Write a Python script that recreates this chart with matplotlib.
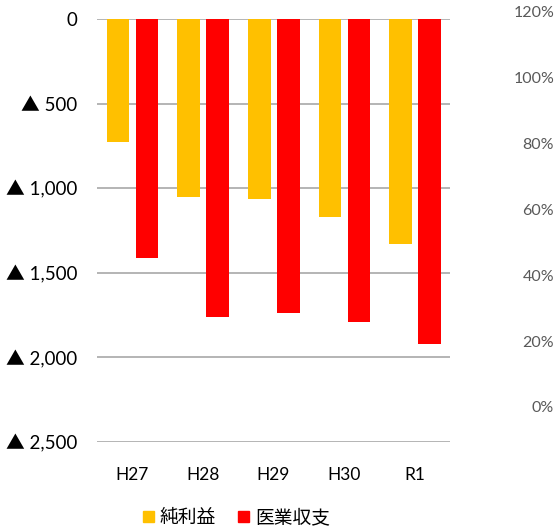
import numpy as np
import matplotlib
matplotlib.use("Agg")
import matplotlib.pyplot as plt
from matplotlib.patches import Patch

plt.rcParams['font.family'] = ['Lato', 'Noto Sans CJK JP', 'DejaVu Sans']

years = ["H27", "H28", "H29", "H30", "R1"]
net_profit = [-725, -1050, -1062, -1168, -1332]      # 純利益
medical_balance = [-1411, -1759, -1740, -1789, -1923]  # 医業収支
left_ticks = [0, -500, -1000, -1500, -2000, -2500]
right_ticks = [0, 20, 40, 60, 80, 100, 120]

fig = plt.figure(figsize=(5.56, 5.32), dpi=100)
ax = fig.add_axes([0.174, 0.1692, 0.6355, 0.795])

x = np.arange(len(years))
w = 0.32
ax.bar(x - 0.2, net_profit, w, color="#FFC000", zorder=3)
ax.bar(x + 0.21, medical_balance, w, color="#FF0000", zorder=3)

ax.set_xlim(-0.5, len(years) - 0.5)
ax.set_ylim(-2500, 0)
ax.set_yticks(left_ticks)
ax.set_yticklabels(["0" if v == 0 else f"▲ {abs(v):,}" for v in left_ticks])
ax.set_xticks(x)
ax.set_xticklabels(years)
ax.yaxis.grid(True, color="#A0A0A0", linewidth=1.1, zorder=0)
ax.tick_params(axis="y", length=0, pad=14, labelsize=13.5)
ax.tick_params(axis="x", length=0, pad=18, labelsize=12.5)
for s in ax.spines.values():
    s.set_visible(False)

# secondary axis (percent), no data drawn
ax2 = fig.add_axes([0.174, 0.235, 0.6355, 0.7425], frameon=False)
ax2.set_xticks([])
ax2.set_ylim(0, 120)
ax2.yaxis.tick_right()
ax2.set_yticks(right_ticks)
ax2.set_yticklabels([f"{v}%" for v in right_ticks], ha="right")
ax2.tick_params(axis="y", length=0, pad=75, labelsize=11.5, labelcolor="#595959")
ax2.patch.set_visible(False)

handles = [Patch(color="#FFC000"), Patch(color="#FF0000")]
fig.legend(handles, ["純利益", "医業収支"], loc="center", bbox_to_anchor=(0.425, 0.028),
           ncol=2, frameon=False, fontsize=13.5, handlelength=0.6, handleheight=0.6,
           handletextpad=0.3, columnspacing=1.2)

fig.savefig("out.png", dpi=100)
